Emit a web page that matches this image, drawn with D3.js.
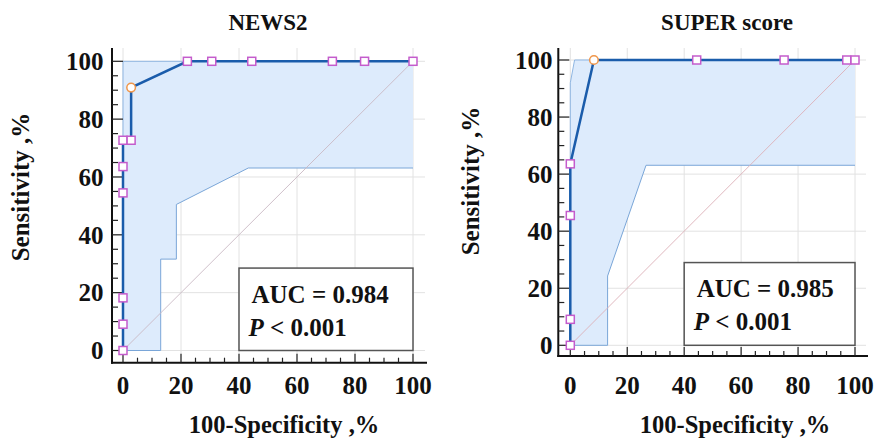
<!DOCTYPE html>
<html><head><meta charset="utf-8">
<script src="https://cdn.jsdelivr.net/npm/d3@7"></script>
<style>body{margin:0;background:#fff}svg{display:block}text{font-family:"Liberation Serif","Times New Roman",serif;font-weight:bold;fill:#111}</style>
</head><body><svg id="c" width="875" height="444"></svg>
<script>
// ---- data ----
const titles = ["NEWS2", "SUPER score"];
const aucLabels = ["AUC = 0.984", "AUC = 0.985"];
const pLabel = "< 0.001";
const tickValues = [0, 20, 40, 60, 80, 100];
const xTitle = "100-Specificity ,%";
const yTitle = "Sensitivity ,%";
// NEWS2 ROC (100-specificity, sensitivity)
const news2X = [0, 0, 0, 0, 0, 0, 2.8, 2.8, 22.2, 30.6, 44.4, 72.2, 83.3, 100];
const news2Y = [0, 9.1, 18.2, 54.5, 63.6, 72.7, 72.7, 90.9, 100, 100, 100, 100, 100, 100];
const news2Cut = [2.8, 90.9];
const news2UpperX = [0, 0, 100];
const news2UpperY = [0, 100, 100];
const news2LowerX = [0, 13, 13, 18.4, 18.4, 43.2, 100];
const news2LowerY = [0, 0, 31.6, 31.6, 50.5, 63.1, 63.1];
// SUPER score ROC
const superX = [0, 0, 0, 0, 8.3, 44.4, 75.1, 97.1, 100];
const superY = [0, 9.1, 45.5, 63.6, 100, 100, 100, 100, 100];
const superCut = [8.3, 100];
const superUpperX = [0, 0, 1.5, 100];
const superUpperY = [0, 92, 100, 100];
const superLowerX = [0, 13.1, 13.1, 26.6, 100];
const superLowerY = [0, 0, 24.3, 63.1, 63.1];

const panels = [
  {title: titles[0], auc: aucLabels[0], xs: news2X, ys: news2Y, cut: news2Cut,
   ux: news2UpperX, uy: news2UpperY, lx: news2LowerX, ly: news2LowerY,
   x0: 123, x1: 413, y0: 350.5, y1: 61.3, axX: 112, axY: 362.7, top: 48, right: 425,
   titleX: 268, ytX: 29, ytY: 187, labRight: 103.5, xtX: 284, boxTop: 28.5, diag: "#c9b9c4"},
  {title: titles[1], auc: aucLabels[1], xs: superX, ys: superY, cut: superCut,
   ux: superUpperX, uy: superUpperY, lx: superLowerX, ly: superLowerY,
   x0: 570.3, x1: 855, y0: 345.3, y1: 60, axX: 558.3, axY: 356, top: 48, right: 866,
   titleX: 727, ytX: 478.5, ytY: 181, labRight: 552.5, xtX: 735, boxTop: 29, diag: "#dcb0b8"}
];

const svg = d3.select("#c");

panels.forEach(p => {
  const g = svg.append("g");
  const x = d3.scaleLinear().domain([0, 100]).range([p.x0, p.x1]);
  const y = d3.scaleLinear().domain([0, 100]).range([p.y0, p.y1]);

  // grid
  tickValues.forEach(t => {
    g.append("line").attr("x1", p.axX).attr("x2", p.right).attr("y1", y(t)).attr("y2", y(t))
      .attr("stroke", "#e2e2e2").attr("stroke-width", 1);
    g.append("line").attr("x1", x(t)).attr("x2", x(t)).attr("y1", p.top).attr("y2", p.axY)
      .attr("stroke", "#e2e2e2").attr("stroke-width", 1);
  });

  // confidence band
  const upper = p.ux.map((v, i) => [v, p.uy[i]]);
  const lower = p.lx.map((v, i) => [v, p.ly[i]]);
  const poly = upper.concat(lower.slice().reverse());
  const line = d3.line().x(d => x(d[0])).y(d => y(d[1]));
  g.append("path").attr("d", line(poly) + "Z").attr("fill", "#ddebfc").attr("stroke", "none");
  g.append("path").attr("d", line(upper)).attr("fill", "none").attr("stroke", "#8fb6e2").attr("stroke-width", 1);
  g.append("path").attr("d", line(lower)).attr("fill", "none").attr("stroke", "#7aa6d8").attr("stroke-width", 1);

  // diagonal reference
  g.append("line").attr("x1", x(0)).attr("y1", y(0)).attr("x2", x(100)).attr("y2", y(100))
    .attr("stroke", p.diag).attr("stroke-width", 0.9);

  // axes lines
  g.append("line").attr("x1", p.axX).attr("x2", p.axX).attr("y1", p.top).attr("y2", p.axY + 1)
    .attr("stroke", "#111").attr("stroke-width", 2);
  g.append("line").attr("x1", p.axX - 1).attr("x2", p.right + 2).attr("y1", p.axY).attr("y2", p.axY)
    .attr("stroke", "#111").attr("stroke-width", 2);
  // ticks every 5
  d3.range(0, 101, 5).forEach(t => {
    const major = t % 20 === 0;
    g.append("line").attr("x1", p.axX).attr("x2", p.axX + (major ? 11 : 6)).attr("y1", y(t)).attr("y2", y(t))
      .attr("stroke", "#222").attr("stroke-width", 1.2);
    g.append("line").attr("x1", x(t)).attr("x2", x(t)).attr("y1", p.axY).attr("y2", p.axY - (major ? 9 : 5))
      .attr("stroke", "#222").attr("stroke-width", 1.2);
  });
  // tick labels
  tickValues.forEach(t => {
    g.append("text").attr("x", p.labRight).attr("y", y(t) + 8.8).attr("text-anchor", "end")
      .attr("font-size", 25).text(t);
    g.append("text").attr("x", x(t)).attr("y", 393.5).attr("text-anchor", "middle")
      .attr("font-size", 25).text(t);
  });

  // titles
  g.append("text").attr("x", p.titleX).attr("y", 30).attr("text-anchor", "middle")
    .attr("font-size", 23).text(p.title);
  g.append("text").attr("x", p.xtX).attr("y", 433).attr("text-anchor", "middle")
    .attr("font-size", 24.5).text(xTitle);
  g.append("text").attr("transform", `translate(${p.ytX},${p.ytY}) rotate(-90)`)
    .attr("text-anchor", "middle").attr("font-size", 25).text(yTitle);

  // ROC curve
  const pts = p.xs.map((v, i) => [v, p.ys[i]]);
  g.append("path").attr("d", line(pts)).attr("fill", "none").attr("stroke", "#1a5cab").attr("stroke-width", 2.5);
  pts.forEach(d => {
    if (d[0] === p.cut[0] && d[1] === p.cut[1]) return;
    g.append("rect").attr("x", x(d[0]) - 4).attr("y", y(d[1]) - 4).attr("width", 8).attr("height", 8)
      .attr("fill", "#fff").attr("stroke", "#c45ccc").attr("stroke-width", 1.5);
  });
  g.append("circle").attr("cx", x(p.cut[0])).attr("cy", y(p.cut[1])).attr("r", 4.3)
    .attr("fill", "#fff").attr("stroke", "#f0964a").attr("stroke-width", 1.5);

  // AUC box
  const bx = x(40), by = y(p.boxTop);
  g.append("rect").attr("x", bx).attr("y", by).attr("width", x(100) - x(40)).attr("height", y(0) - by)
    .attr("fill", "#fff").attr("stroke", "#555").attr("stroke-width", 1.5);
  g.append("text").attr("x", bx + 12.5).attr("y", by + 34.5).attr("font-size", 25).text(p.auc);
  const pt = g.append("text").attr("x", bx + 9.5).attr("y", by + 67.5).attr("font-size", 25);
  pt.append("tspan").attr("font-style", "italic").text("P");
  pt.append("tspan").text(" " + pLabel);
});
</script></body></html>
